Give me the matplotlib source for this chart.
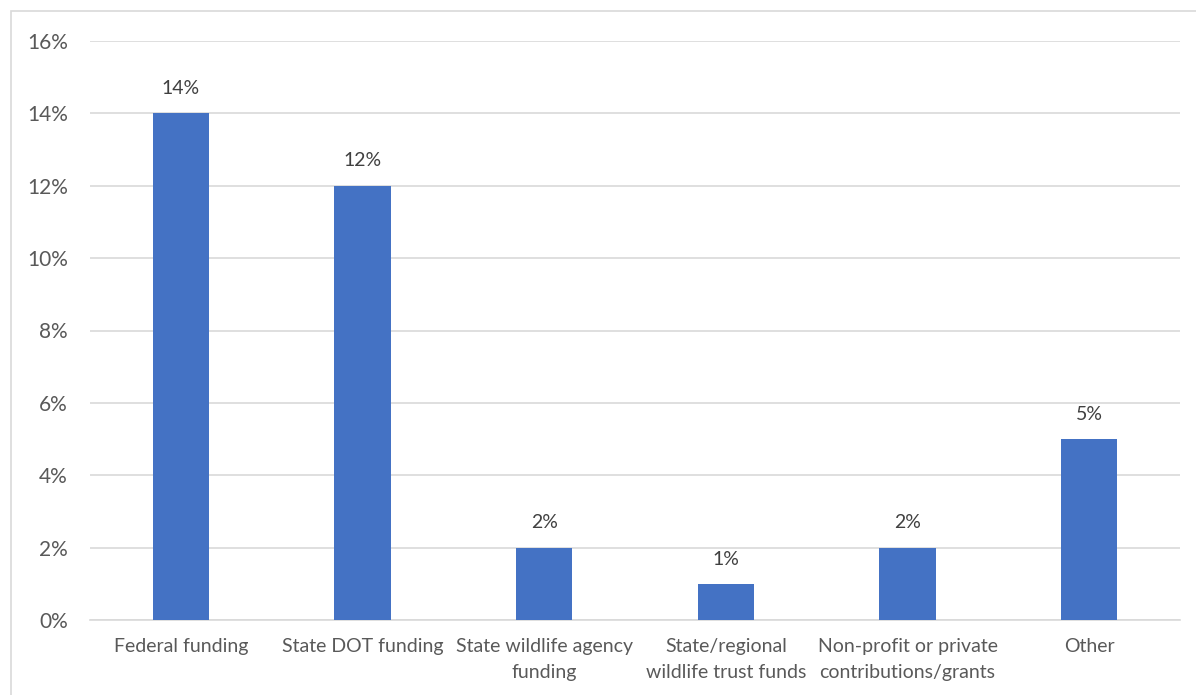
import numpy as np
import matplotlib.pyplot as plt
from matplotlib.patches import Rectangle

# Data
categories = ["Federal funding", "State DOT funding", "State wildlife agency\nfunding",
              "State/regional\nwildlife trust funds", "Non-profit or private\ncontributions/grants",
              "Other"]
values = [14, 12, 2, 1, 2, 5]

plt.rcParams['font.family'] = ['Lato', 'DejaVu Sans']

fig = plt.figure(figsize=(11.96, 6.95), dpi=100)
ax = fig.add_axes([90 / 1196, 1 - 620 / 695, 1090 / 1196, 579 / 695])

# Chart frame
fig.patches.append(Rectangle((11 / 1196, -0.05), 1.1, 1 - 11 / 695 + 0.05,
                             transform=fig.transFigure, fill=False,
                             edgecolor='#D9D9D9', linewidth=1.2))

x = np.arange(len(values))
bars = ax.bar(x, values, width=0.31, color='#4472C4', zorder=3)
for xi, v in zip(x, values):
    ax.text(xi, v + 0.45, f"{v}%", ha='center', va='bottom', fontsize=14, color='#404040')

ax.set_xlim(-0.5, len(values) - 0.5)
ax.set_ylim(0, 16)
ax.set_yticks(np.arange(0, 17, 2))
ax.set_yticklabels([f"{t}%" for t in range(0, 17, 2)])
ax.set_xticks(x)
ax.set_xticklabels(categories, fontsize=14, color='#595959', linespacing=1.65)
ax.tick_params(axis='y', labelsize=15, labelcolor='#595959', length=0, pad=16)
ax.tick_params(axis='x', length=0, pad=13)
ax.grid(axis='y', color='#D9D9D9', linewidth=1.2, zorder=0)
for side in ['top', 'right', 'left']:
    ax.spines[side].set_visible(False)
ax.spines['bottom'].set_color('#D9D9D9')
ax.spines['bottom'].set_linewidth(1.2)

fig.savefig('out.png', dpi=100)
